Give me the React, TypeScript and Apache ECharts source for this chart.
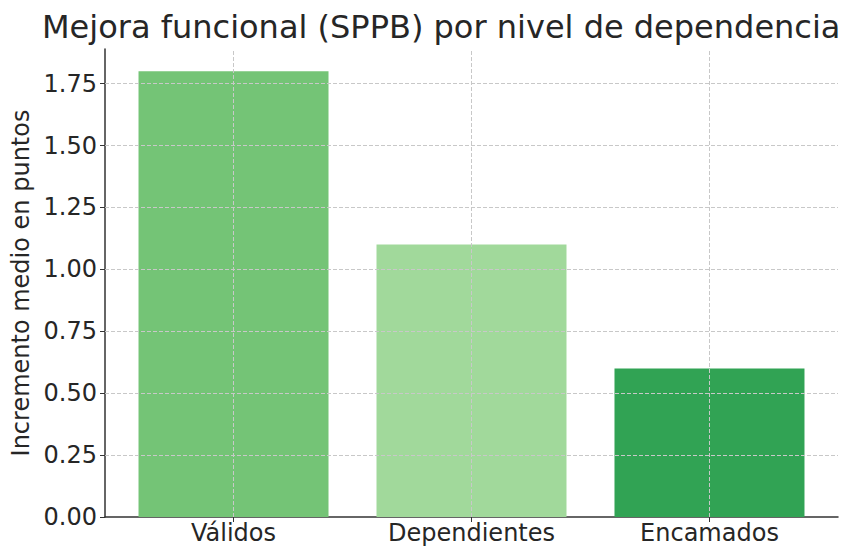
import React, { useEffect, useRef } from "react";
import * as echarts from "echarts";

const categories = ["Válidos", "Dependientes", "Encamados"];
const values = [1.8, 1.1, 0.6];
const barColors = ["#74c476", "#a1d99b", "#31a354"];
const yTicks = [0, 0.25, 0.5, 0.75, 1.0, 1.25, 1.5, 1.75];
const titleText = "Mejora funcional (SPPB) por nivel de dependencia";
const yAxisName = "Incremento medio en puntos";

export default function App() {
  const ref = useRef<HTMLDivElement>(null);
  useEffect(() => {
    document.body.style.margin = "0";
    if (!ref.current) return;
    const chart = echarts.init(ref.current, null, { renderer: "svg" });
    const font = "DejaVu Sans";
    const gridLine = { type: "dashed", color: "#c8c8c8", width: 1 };
    chart.setOption({
      animation: false,
      backgroundColor: "#ffffff",
      textStyle: { fontFamily: font },
      title: {
        text: titleText,
        left: 37,
        top: 6,
        textStyle: { fontFamily: font, fontSize: 32, fontWeight: "normal", color: "#262626" },
      },
      grid: { left: 105, right: 27, top: 49, bottom: 31 },
      xAxis: {
        type: "value",
        min: -0.54,
        max: 2.54,
        axisLine: { show: true, onZero: false, lineStyle: { color: "#333", width: 1.5 } },
        axisTick: { show: true, length: 5, customValues: [0, 1, 2], lineStyle: { color: "#333" } },
        axisLabel: {
          customValues: [0, 1, 2],
          formatter: (v: number) => categories[Math.round(v)] ?? "",
          fontFamily: font,
          fontSize: 24,
          color: "#262626",
          margin: 4,
        },
        splitLine: { show: false },
      },
      yAxis: {
        type: "value",
        min: 0,
        max: 1.89,
        name: yAxisName,
        nameLocation: "middle",
        nameGap: 71,
        nameTextStyle: { fontFamily: font, fontSize: 24, color: "#262626" },
        axisLine: { show: true, onZero: false, lineStyle: { color: "#333", width: 1.5 } },
        axisTick: { show: true, length: 5, customValues: yTicks, lineStyle: { color: "#333" } },
        axisLabel: {
          customValues: yTicks,
          formatter: (v: number) => v.toFixed(2),
          fontFamily: font,
          fontSize: 24,
          color: "#262626",
          margin: 8,
        },
        splitLine: { show: false },
      },
      series: [
        {
          type: "bar",
          barWidth: 190,
          data: values.map((v, i) => ({ value: [i, v], itemStyle: { color: barColors[i] } })),
          markLine: {
            silent: true,
            symbol: ["none", "none"],
            label: { show: false },
            lineStyle: gridLine,
            data: [
              ...categories.map((_, i) => ({ xAxis: i })),
              ...yTicks.filter((t) => t > 0).map((t) => ({ yAxis: t })),
            ],
          },
        },
      ],
    });
    return () => chart.dispose();
  }, []);
  return <div ref={ref} style={{ width: 865, height: 548 }} />;
}
